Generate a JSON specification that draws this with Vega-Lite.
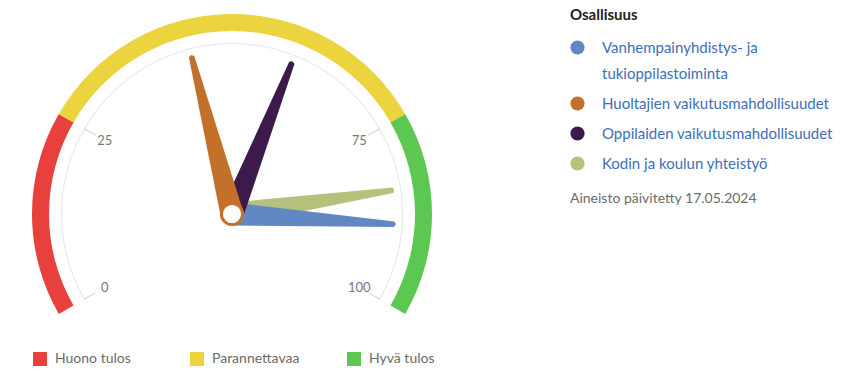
{
  "$schema": "https://vega.github.io/schema/vega-lite/v6.json",
  "width": 464,
  "height": 428,
  "padding": 0,
  "config": {"font": "Lato", "view": {"stroke": null}},
  "datasets": {
    "bands": [
      {"band": "Huono tulos", "start": 0, "end": 25},
      {"band": "Parannettavaa", "start": 25, "end": 75},
      {"band": "Hyvä tulos", "start": 75, "end": 100}
    ],
    "scaleArc": [{"start": 0, "end": 100}],
    "ticks": [{"value": 0}, {"value": 25}, {"value": 75}, {"value": 100}],
    "needles": [
      {"indicator": "Kodin ja koulun yhteistyö", "value": 84},
      {"indicator": "Vanhempainyhdistys- ja tukioppilastoiminta", "value": 89},
      {"indicator": "Oppilaiden vaikutusmahdollisuudet", "value": 59},
      {"indicator": "Huoltajien vaikutusmahdollisuudet", "value": 44}
    ],
    "note": [{"note": "Aineisto päivitetty 17.05.2024"}]
  },
  "layer": [
    {
      "data": {"name": "bands"},
      "mark": {"type": "arc", "radius": 200, "radius2": 183},
      "encoding": {
        "theta": {"field": "start", "type": "quantitative", "stack": null, "scale": {"domain": [0, 100], "range": [-2.0944, 2.0944]}},
        "theta2": {"field": "end"},
        "color": {
          "field": "band", "type": "nominal",
          "scale": {"domain": ["Huono tulos", "Parannettavaa", "Hyvä tulos"], "range": ["#e8413d", "#ecd43f", "#5cc751"]},
          "legend": {
            "title": null, "orient": "none", "legendX": 33, "legendY": 352, "direction": "horizontal",
            "columns": 3, "gridAlign": "all", "columnPadding": 47, "padding": 0,
            "symbolType": "square", "symbolSize": 196, "symbolStrokeWidth": 0, "symbolOpacity": 1,
            "labelFontSize": 14, "labelColor": "#6b6b6b", "labelOffset": 8
          }
        }
      }
    },
    {
      "data": {"name": "scaleArc"},
      "mark": {"type": "arc", "radius": 171, "radius2": 170, "color": "#e4e6ea"},
      "encoding": {
        "theta": {"field": "start", "type": "quantitative", "stack": null},
        "theta2": {"field": "end"}
      }
    },
    {
      "data": {"name": "ticks"},
      "mark": {"type": "point", "shape": "M 0 -1 L 0 -0.92", "size": 116964, "filled": false, "stroke": "#cfd2d8", "strokeWidth": 1, "opacity": 1},
      "encoding": {
        "angle": {"field": "value", "type": "quantitative", "scale": {"domain": [0, 100], "range": [-120, 120]}}
      }
    },
    {
      "data": {"name": "ticks"},
      "mark": {"type": "text", "radius": 147, "fontSize": 13, "color": "#777777", "align": "center", "baseline": "middle"},
      "encoding": {
        "theta": {"field": "value", "type": "quantitative", "stack": null},
        "text": {"field": "value", "type": "quantitative"}
      }
    },
    {
      "data": {"name": "needles"},
      "mark": {"type": "point", "shape": "M -0.07 0 L -0.017 -0.985 L 0 -0.995 L 0.017 -0.985 L 0.07 0 Z", "size": 108900, "filled": true, "opacity": 1, "strokeWidth": 0},
      "encoding": {
        "angle": {"field": "value", "type": "quantitative"},
        "fill": {
          "field": "indicator", "type": "nominal",
          "scale": {
            "domain": ["Vanhempainyhdistys- ja tukioppilastoiminta", "Huoltajien vaikutusmahdollisuudet", "Oppilaiden vaikutusmahdollisuudet", "Kodin ja koulun yhteistyö"],
            "range": ["#6288c4", "#c2702a", "#3c1a4b", "#b5c27e"]
          },
          "legend": {
            "title": "Osallisuus", "orient": "none", "legendX": 570, "legendY": 8, "padding": 0,
            "titleFontSize": 15, "titleFontWeight": "bold", "titleColor": "#222222", "titlePadding": 17,
            "symbolType": "circle", "symbolSize": 201, "symbolStrokeWidth": 0, "symbolOpacity": 1,
            "labelFontSize": 15, "labelColor": "#3b70b8", "labelLimit": 300, "labelOffset": 17, "rowPadding": 14,
            "labelExpr": "datum.label == 'Vanhempainyhdistys- ja tukioppilastoiminta' ? ['Vanhempainyhdistys- ja', 'tukioppilastoiminta'] : datum.label",
            "encode": {"labels": {"update": {"lineHeight": {"value": 26}}}}
          }
        }
      }
    },
    {
      "data": {"values": [{}]},
      "mark": {"type": "point", "shape": "circle", "size": 450, "filled": true, "fill": "#ffffff", "stroke": "#c2702a", "strokeWidth": 3, "opacity": 1},
      "encoding": {}
    },
    {
      "data": {"name": "note"},
      "mark": {"type": "point", "opacity": 0},
      "encoding": {
        "shape": {
          "field": "note", "type": "nominal",
          "legend": {
            "title": null, "orient": "none", "legendX": 556, "legendY": 192, "padding": 0,
            "symbolSize": 0, "symbolOpacity": 0, "symbolStrokeWidth": 0, "labelOffset": 0,
            "labelFontSize": 14, "labelColor": "#6b6b6b", "labelLimit": 300
          }
        }
      }
    }
  ]
}
